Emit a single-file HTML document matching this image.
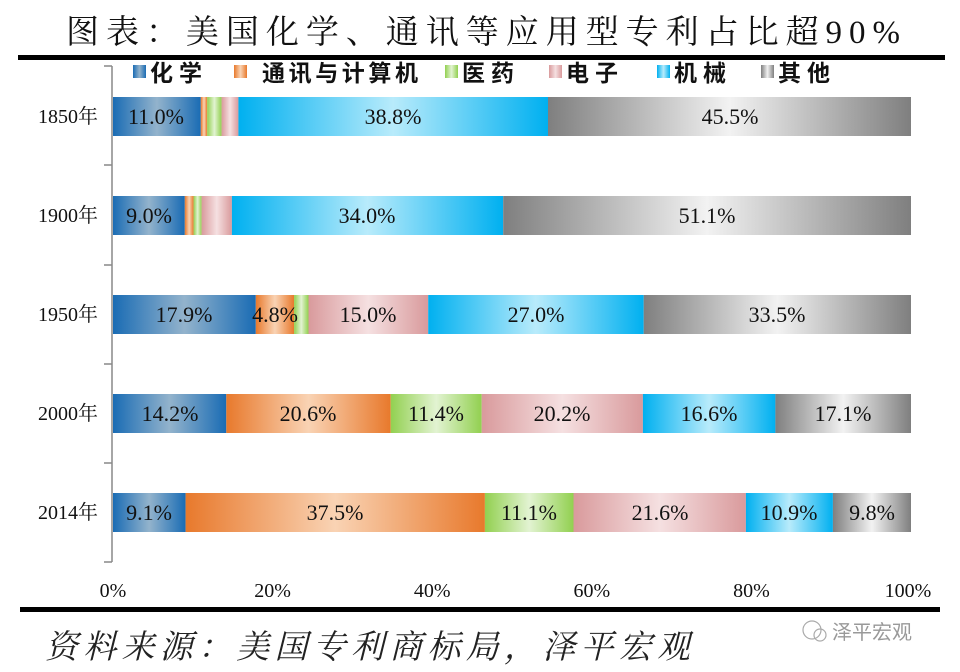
<!DOCTYPE html>
<html><head><meta charset="utf-8"><style>
html,body{margin:0;padding:0;background:#fff;}
svg{display:block;}
</style></head><body>
<svg width="960" height="672" viewBox="0 0 960 672" xmlns="http://www.w3.org/2000/svg">
<defs>
<linearGradient id="gc" x1="0" x2="1" y1="0" y2="0"><stop offset="0" stop-color="#1a6cb4"/><stop offset="0.5" stop-color="#93b3cc"/><stop offset="1" stop-color="#1a6cb4"/></linearGradient>
<linearGradient id="go" x1="0" x2="1" y1="0" y2="0"><stop offset="0" stop-color="#e8792c"/><stop offset="0.5" stop-color="#f9d3b4"/><stop offset="1" stop-color="#e8792c"/></linearGradient>
<linearGradient id="gg" x1="0" x2="1" y1="0" y2="0"><stop offset="0" stop-color="#92d050"/><stop offset="0.5" stop-color="#e2f3d2"/><stop offset="1" stop-color="#92d050"/></linearGradient>
<linearGradient id="gp" x1="0" x2="1" y1="0" y2="0"><stop offset="0" stop-color="#d99a9c"/><stop offset="0.5" stop-color="#f5e0e1"/><stop offset="1" stop-color="#d99a9c"/></linearGradient>
<linearGradient id="gb" x1="0" x2="1" y1="0" y2="0"><stop offset="0" stop-color="#00b0f0"/><stop offset="0.5" stop-color="#b8ebfb"/><stop offset="1" stop-color="#00b0f0"/></linearGradient>
<linearGradient id="gy" x1="0" x2="1" y1="0" y2="0"><stop offset="0" stop-color="#7f7f7f"/><stop offset="0.5" stop-color="#f2f2f2"/><stop offset="1" stop-color="#7f7f7f"/></linearGradient>
</defs>
<text x="66" y="43" font-family="'Liberation Serif','Noto Serif CJK SC',serif" font-size="33" textLength="834" lengthAdjust="spacing" fill="#111">图表：美国化学、通讯等应用型专利占比超90%</text>
<rect x="18" y="55" width="927" height="5" fill="#000"/>
<g font-family="'Liberation Sans','Noto Sans CJK SC',sans-serif" font-size="23" font-weight="bold" fill="#111">
<rect x="133" y="65" width="13" height="13" fill="url(#gc)"/><text x="150" y="81" textLength="52" lengthAdjust="spacing">化学</text>
<rect x="234" y="65" width="13" height="13" fill="url(#go)"/><text x="262" y="81" textLength="156" lengthAdjust="spacing">通讯与计算机</text>
<rect x="445" y="65" width="13" height="13" fill="url(#gg)"/><text x="462" y="81" textLength="52" lengthAdjust="spacing">医药</text>
<rect x="549" y="65" width="13" height="13" fill="url(#gp)"/><text x="566" y="81" textLength="52" lengthAdjust="spacing">电子</text>
<rect x="657" y="65" width="13" height="13" fill="url(#gb)"/><text x="674" y="81" textLength="52" lengthAdjust="spacing">机械</text>
<rect x="761" y="65" width="13" height="13" fill="url(#gy)"/><text x="778" y="81" textLength="52" lengthAdjust="spacing">其他</text>
</g>
<g stroke="#888" stroke-width="1.5">
<line x1="112" y1="66" x2="112" y2="562"/>
<line x1="104" y1="66" x2="112" y2="66"/><line x1="104" y1="165" x2="112" y2="165"/><line x1="104" y1="265" x2="112" y2="265"/><line x1="104" y1="364" x2="112" y2="364"/><line x1="104" y1="463" x2="112" y2="463"/><line x1="104" y1="562" x2="112" y2="562"/>
</g>
<g font-family="'Liberation Serif',serif" font-size="22" fill="#111" text-anchor="middle">
<rect x="113" y="97" width="87.8" height="39" fill="url(#gc)"/>
<rect x="200.8" y="97" width="6.4" height="39" fill="url(#go)"/>
<rect x="207.2" y="97" width="14.4" height="39" fill="url(#gg)"/>
<rect x="221.6" y="97" width="16.8" height="39" fill="url(#gp)"/>
<rect x="238.4" y="97" width="309.6" height="39" fill="url(#gb)"/>
<rect x="548" y="97" width="363" height="39" fill="url(#gy)"/>
<text x="156" y="124">11.0%</text><text x="393" y="124">38.8%</text><text x="730" y="124">45.5%</text>
<rect x="113" y="196" width="71.8" height="39" fill="url(#gc)"/>
<rect x="184.8" y="196" width="8.8" height="39" fill="url(#go)"/>
<rect x="193.6" y="196" width="8" height="39" fill="url(#gg)"/>
<rect x="201.6" y="196" width="30.3" height="39" fill="url(#gp)"/>
<rect x="231.9" y="196" width="271.3" height="39" fill="url(#gb)"/>
<rect x="503.2" y="196" width="407.8" height="39" fill="url(#gy)"/>
<text x="149" y="223">9.0%</text><text x="367" y="223">34.0%</text><text x="707" y="223">51.1%</text>
<rect x="113" y="295" width="142.8" height="39" fill="url(#gc)"/>
<rect x="255.8" y="295" width="38.3" height="39" fill="url(#go)"/>
<rect x="294.1" y="295" width="14.4" height="39" fill="url(#gg)"/>
<rect x="308.5" y="295" width="119.7" height="39" fill="url(#gp)"/>
<rect x="428.2" y="295" width="215.5" height="39" fill="url(#gb)"/>
<rect x="643.7" y="295" width="267.3" height="39" fill="url(#gy)"/>
<text x="184" y="322">17.9%</text><text x="275" y="322">4.8%</text><text x="368" y="322">15.0%</text><text x="536" y="322">27.0%</text><text x="777" y="322">33.5%</text>
<rect x="113" y="394" width="113.3" height="39" fill="url(#gc)"/>
<rect x="226.3" y="394" width="164.4" height="39" fill="url(#go)"/>
<rect x="390.7" y="394" width="91" height="39" fill="url(#gg)"/>
<rect x="481.7" y="394" width="161.2" height="39" fill="url(#gp)"/>
<rect x="642.9" y="394" width="132.5" height="39" fill="url(#gb)"/>
<rect x="775.4" y="394" width="135.6" height="39" fill="url(#gy)"/>
<text x="170" y="421">14.2%</text><text x="308" y="421">20.6%</text><text x="436" y="421">11.4%</text><text x="562" y="421">20.2%</text><text x="709" y="421">16.6%</text><text x="843" y="421">17.1%</text>
<rect x="113" y="493" width="72.6" height="39" fill="url(#gc)"/>
<rect x="185.6" y="493" width="299.3" height="39" fill="url(#go)"/>
<rect x="484.9" y="493" width="88.6" height="39" fill="url(#gg)"/>
<rect x="573.5" y="493" width="172.4" height="39" fill="url(#gp)"/>
<rect x="745.9" y="493" width="87" height="39" fill="url(#gb)"/>
<rect x="832.9" y="493" width="78.1" height="39" fill="url(#gy)"/>
<text x="149" y="520">9.1%</text><text x="335" y="520">37.5%</text><text x="529" y="520">11.1%</text><text x="660" y="520">21.6%</text><text x="789" y="520">10.9%</text><text x="872" y="520">9.8%</text>
</g>
<g font-family="'Liberation Serif','Noto Serif CJK SC',serif" font-size="20" fill="#111" text-anchor="end">
<text x="98" y="123">1850年</text><text x="98" y="222">1900年</text><text x="98" y="321">1950年</text><text x="98" y="420">2000年</text><text x="98" y="519">2014年</text>
</g>
<g font-family="'Liberation Serif',serif" font-size="20" fill="#111" text-anchor="middle">
<text x="113" y="597">0%</text><text x="272.6" y="597">20%</text><text x="432.2" y="597">40%</text><text x="591.8" y="597">60%</text><text x="751.4" y="597">80%</text><text x="908" y="597">100%</text>
</g>
<rect x="20" y="607" width="920" height="5" fill="#000"/>
<text x="45" y="658" font-family="'Liberation Serif','Noto Serif CJK SC',serif" font-size="33" font-style="italic" fill="#222" textLength="645" lengthAdjust="spacing">资料来源：美国专利商标局，泽平宏观</text>
<circle cx="812" cy="630" r="9" fill="none" stroke="#aaa" stroke-width="1.2"/>
<circle cx="820" cy="635" r="6" fill="none" stroke="#aaa" stroke-width="1.2"/>
<text x="832" y="639" font-family="'Liberation Sans','Noto Sans CJK SC',sans-serif" font-size="20" fill="#999">泽平宏观</text>
</svg>
</body></html>
